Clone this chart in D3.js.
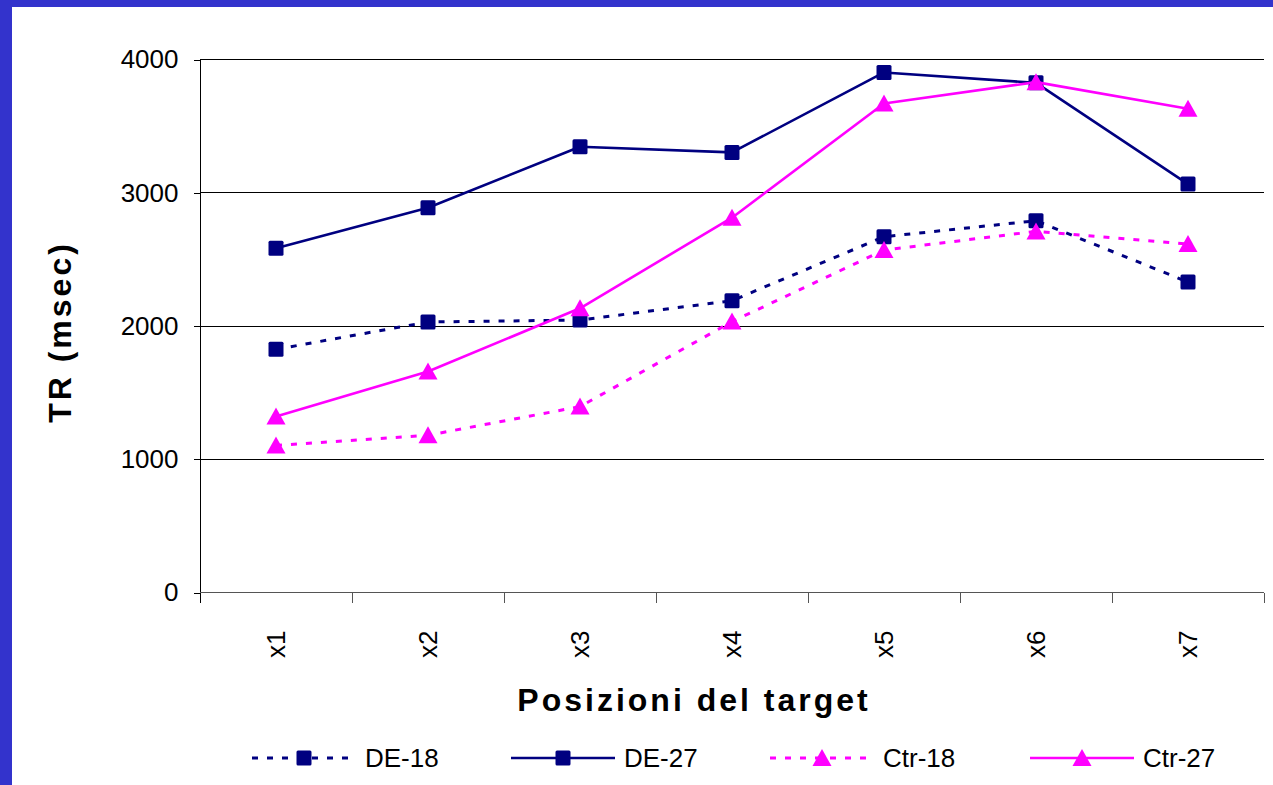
<!DOCTYPE html>
<html>
<head>
<meta charset="utf-8">
<script src="https://cdn.jsdelivr.net/npm/d3@7"></script>
<style>
  html, body { margin: 0; padding: 0; background: #fff; }
  svg { display: block; }
  text { font-family: Arial, "Liberation Sans", sans-serif; fill: #000; }
</style>
</head>
<body>
<svg id="chart" width="1273" height="785"></svg>
<script>
// Categories (target positions)
const categories = ["x1", "x2", "x3", "x4", "x5", "x6", "x7"];

// Reaction times (msec) per group
const de18  = [1825, 2030, 2045, 2190, 2670, 2790, 2330];
const de27  = [2583, 2888, 3345, 3303, 3903, 3825, 3065];
const ctr18 = [1103, 1180, 1395, 2033, 2570, 2710, 2615];
const ctr27 = [1320, 1658, 2133, 2813, 3670, 3830, 3630];

const seriesNames = ["DE-18", "DE-27", "Ctr-18", "Ctr-27"];
const yTicks = [0, 1000, 2000, 3000, 4000];

const yTitle = "TR (msec)";
const xTitle = "Posizioni del target";

const series = [
  { name: seriesNames[0], values: de18,  color: "#000080", dash: "6,9", marker: "square" },
  { name: seriesNames[1], values: de27,  color: "#000080", dash: null,  marker: "square" },
  { name: seriesNames[2], values: ctr18, color: "#ff00ff", dash: "6,9", marker: "triangle" },
  { name: seriesNames[3], values: ctr27, color: "#ff00ff", dash: null,  marker: "triangle" }
];

const svg = d3.select("#chart");

// Frame: blue band along the top and left edges
svg.append("rect").attr("x", 0).attr("y", 0).attr("width", 1273).attr("height", 785).attr("fill", "#3333cc");
svg.append("rect").attr("x", 12).attr("y", 7).attr("width", 1261).attr("height", 778).attr("fill", "#ffffff");

const plotLeft = 200, plotRight = 1264, plotTop = 59.5, plotBottom = 592.5;

const x = d3.scaleBand().domain(categories).range([plotLeft, plotRight]).paddingInner(0).paddingOuter(0);
const y = d3.scaleLinear().domain([0, 4000]).range([plotBottom, plotTop]);
const cx = c => x(c) + x.bandwidth() / 2;
const crisp = v => Math.round(v - 0.5) + 0.5;

// Horizontal gridlines
svg.append("g").selectAll("line")
  .data(yTicks.filter(t => t > 0))
  .join("line")
  .attr("x1", plotLeft).attr("x2", plotRight)
  .attr("y1", d => crisp(y(d))).attr("y2", d => crisp(y(d)))
  .attr("stroke", "#000").attr("stroke-width", 1)
  .attr("shape-rendering", "crispEdges");

// Y axis
const yAxis = svg.append("g")
  .attr("transform", `translate(${plotLeft + 0.5},0)`)
  .attr("shape-rendering", "crispEdges")
  .call(d3.axisLeft(y).tickValues(yTicks).tickSize(7).tickPadding(15).tickFormat(d3.format("d")));
yAxis.select(".domain").attr("d", `M0,${plotTop}V${plotBottom + 10}`).attr("stroke", "#000");
yAxis.selectAll(".tick line").attr("stroke", "#000");
yAxis.selectAll(".tick text").attr("font-size", 26).attr("font-family", "Arial, 'Liberation Sans', sans-serif").attr("fill", "#000");

// X axis
const xAxis = svg.append("g")
  .attr("transform", `translate(0,${plotBottom})`)
  .attr("shape-rendering", "crispEdges")
  .call(d3.axisBottom(x).tickSize(0).tickFormat(""));
xAxis.select(".domain").attr("d", `M${plotLeft},0H${plotRight}`).attr("stroke", "#555");
xAxis.selectAll(".tick").remove();

// Category boundary ticks
svg.append("g").attr("shape-rendering", "crispEdges").selectAll("line")
  .data(d3.range(categories.length + 1))
  .join("line")
  .attr("x1", i => plotLeft + i * x.bandwidth() + 0.5)
  .attr("x2", i => plotLeft + i * x.bandwidth() + 0.5)
  .attr("y1", plotBottom).attr("y2", plotBottom + 10)
  .attr("stroke", i => i === 0 ? "#000" : "#555").attr("stroke-width", 1);

// Rotated category labels
svg.append("g").selectAll("text")
  .data(categories)
  .join("text")
  .attr("transform", d => `translate(${cx(d)},658) rotate(-90)`)
  .attr("dy", "0.35em")
  .attr("text-anchor", "start")
  .attr("font-size", 26)
  .text(d => d);

// Axis titles
svg.append("text")
  .attr("transform", "translate(71,332) rotate(-90)")
  .attr("text-anchor", "middle")
  .attr("font-size", 32).attr("font-weight", "bold")
  .attr("letter-spacing", 3)
  .text(yTitle);

svg.append("text")
  .attr("x", 694).attr("y", 711)
  .attr("text-anchor", "middle")
  .attr("font-size", 32).attr("font-weight", "bold")
  .attr("letter-spacing", 3)
  .text(xTitle);

// Marker drawing helper
function drawMarker(g, type, px, py, color) {
  if (type === "square") {
    g.append("rect")
      .attr("x", px - 7.5).attr("y", py - 7.5)
      .attr("width", 15).attr("height", 15)
      .attr("rx", 1.5)
      .attr("fill", color);
  } else {
    g.append("path")
      .attr("d", `M${px},${py - 9}L${px + 9.5},${py + 8}L${px - 9.5},${py + 8}Z`)
      .attr("fill", color);
  }
}

const line = d3.line().x((d, i) => cx(categories[i])).y(d => y(d));

// Series lines and markers
series.forEach(s => {
  const g = svg.append("g");
  g.append("path")
    .attr("d", line(s.values))
    .attr("fill", "none")
    .attr("stroke", s.color)
    .attr("stroke-width", s.dash ? 3 : 2.6)
    .attr("stroke-dasharray", s.dash)
    .attr("stroke-linejoin", "round");
  s.values.forEach((v, i) => drawMarker(g, s.marker, cx(categories[i]), y(v), s.color));
});

// Legend
const legendStarts = [252, 511, 770, 1030];
const legendY = 758;
series.forEach((s, i) => {
  const g = svg.append("g");
  const x0 = legendStarts[i];
  g.append("line")
    .attr("x1", x0).attr("x2", x0 + 104)
    .attr("y1", legendY).attr("y2", legendY)
    .attr("stroke", s.color)
    .attr("stroke-width", s.dash ? 3 : 2.6)
    .attr("stroke-dasharray", s.dash);
  drawMarker(g, s.marker, x0 + 52, legendY, s.color);
  g.append("text")
    .attr("x", x0 + 113).attr("y", legendY)
    .attr("dy", "0.36em")
    .attr("font-size", 26)
    .text(s.name);
});
</script>
</body>
</html>
